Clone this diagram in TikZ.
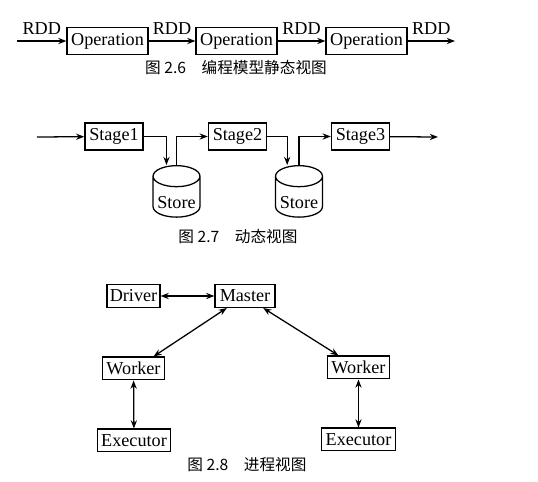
\documentclass[tikz,border=0pt]{standalone}
\usepackage{fontspec}
\setmainfont{Liberation Serif}
\newfontfamily\cjk{Noto Sans CJK SC}
\usetikzlibrary{arrows.meta,shapes.geometric}
\begin{document}
\begin{tikzpicture}[x=0.55pt,y=-0.55pt,>={Stealth[length=4.5pt,width=3.4pt]},
  every path/.style={line width=0.7pt},
  box/.style={draw,inner sep=1.5pt,minimum height=14.8pt},
  opbox/.style={box,minimum width=44.5pt},
  stagebox/.style={box,minimum width=32pt},
  procbox/.style={box,minimum height=12.5pt},
  store/.style={draw,cylinder,shape border rotate=90,aspect=0.5,
    minimum width=25.8pt,minimum height=28.3pt,inner sep=1pt,text height=10pt},
  flow/.style={->},
  link/.style={<->},
  caption/.style={font=\cjk\fontsize{8.6pt}{10pt}\selectfont}]
\useasboundingbox (0,0) rectangle (538,482);

% Statický pohled
\node[opbox] (op1) at (107.5,41) {Operation};
\node[opbox] (op2) at (236.5,41) {Operation};
\node[opbox] (op3) at (366.5,41) {Operation};
\coordinate (in1) at (17,41);
\coordinate (out1) at (455,41);
\draw[flow] (in1) -- node[midway,above] (rdd1) {RDD} (op1);
\draw[flow] (op1) -- node[midway,above] (rdd2) {RDD} (op2);
\draw[flow] (op2) -- node[midway,above] (rdd3) {RDD} (op3);
\draw[flow] (op3) -- node[midway,above] (rdd4) {RDD} (out1);
\node[caption] (cap1) at (236,68) {图 2.6\quad 编程模型静态视图};

% Dynamický pohled
\node[stagebox] (st1) at (114,136.5) {Stage1};
\node[stagebox] (st2) at (237.5,136.5) {Stage2};
\node[stagebox] (st3) at (360.5,136.5) {Stage3};
\node[store] (sto1) at (176.5,199) {Store};
\node[store] (sto2) at (299,199) {Store};
\coordinate (in2) at (37,137);
\coordinate (out2) at (438,137);
\draw[flow] (in2) -- (st1);
\draw[flow] (st1.east) -| ([xshift=-5.5pt]sto1.north);
\draw[flow] (sto1.north) |- (st2.west);
\draw[flow] (st2.east) -| ([xshift=-6.5pt]sto2.north);
\draw[flow] (sto2.north) |- (st3.west);
\draw[flow] (st3) -- (out2);
\node[caption] (cap2) at (238,237) {图 2.7\quad 动态视图};

% Procesy
\node[procbox,minimum width=29pt] (drv) at (133.5,296) {Driver};
\node[procbox,minimum width=33pt] (mst) at (245,296) {Master};
\node[procbox,minimum width=34.5pt] (wk1) at (133.5,368.5) {Worker};
\node[procbox,minimum width=34.5pt] (wk2) at (358.5,367.5) {Worker};
\node[procbox,minimum width=40.5pt] (ex1) at (134,440.5) {Executor};
\node[procbox,minimum width=40.5pt] (ex2) at (358.5,439.5) {Executor};
\draw[link] (drv) -- (mst);
\draw[link] ([xshift=-10pt]mst.south) -- ([xshift=11pt]wk1.north);
\draw[link] ([xshift=10pt]mst.south) -- ([xshift=-11pt]wk2.north);
\draw[link] (wk1) -- (ex1);
\draw[link] (wk2) -- (ex2);
\node[caption] (cap3) at (247,465) {图 2.8\quad 进程视图};
\end{tikzpicture}
\end{document}
